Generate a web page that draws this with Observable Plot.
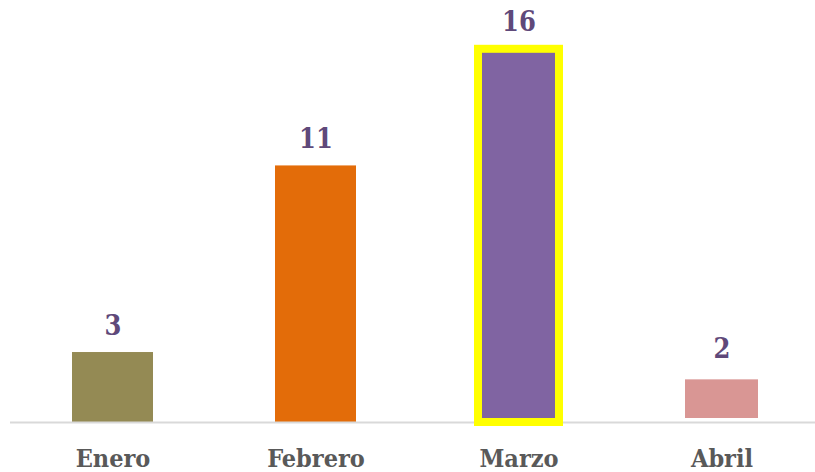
<!DOCTYPE html>
<html>
<head>
<meta charset="utf-8">
<script src="https://cdn.jsdelivr.net/npm/d3@7"></script>
<script src="https://cdn.jsdelivr.net/npm/@observablehq/plot@0.6"></script>
<style>
  html, body { margin: 0; padding: 0; background: #ffffff; }
  #chart { width: 815px; height: 472px; }
</style>
</head>
<body>
<div id="chart"></div>
<script>
const months = ["Enero", "Febrero", "Marzo", "Abril"];
const values = [3, 11, 16, 2];
const colors = ["#948a54", "#e36c09", "#8064a2", "#d99694"];
const outlines = [null, null, "#ffff00", "#ffffff"];

const data = months.map((m, i) => ({month: m, value: values[i], outline: outlines[i]}));
const plain = data.filter(d => !d.outline);
const yellow = data.filter(d => d.outline === "#ffff00");
const white = data.filter(d => d.outline === "#ffffff");

const font = "'DejaVu Serif Condensed', 'DejaVu Serif', serif";

const chart = Plot.plot({
  width: 815,
  height: 472,
  marginTop: 0,
  marginBottom: 50,
  marginLeft: 10,
  marginRight: 0,
  style: {fontFamily: font, background: "#ffffff"},
  x: {domain: months, range: [10, 825], paddingInner: 0.6, paddingOuter: 0.3, axis: null},
  y: {domain: [0, 16], range: [422, 48.8], axis: null},
  color: {domain: months, range: colors},
  marks: [
    Plot.barY(plain, {x: "month", y: "value", fill: "month"}),
    Plot.barY(white, {x: "month", y: "value", fill: "month", stroke: "#ffffff", strokeWidth: 8}),
    Plot.ruleY([0], {stroke: "#d9d9d9", strokeWidth: 2}),
    Plot.barY(yellow, {x: "month", y: "value", fill: "month", stroke: "#ffff00", strokeWidth: 8}),
    Plot.text(data, {x: "month", y: "value", text: d => String(d.value), dy: -18, lineAnchor: "bottom",
      fill: "#5f497a", fontSize: 27, fontWeight: "bold"}),
    Plot.text(data, {x: "month", y: 0, text: "month", dy: 36, lineAnchor: "middle",
      fill: "#595959", fontSize: 25, fontWeight: "bold"})
  ]
});
document.getElementById("chart").appendChild(chart);
</script>
</body>
</html>
